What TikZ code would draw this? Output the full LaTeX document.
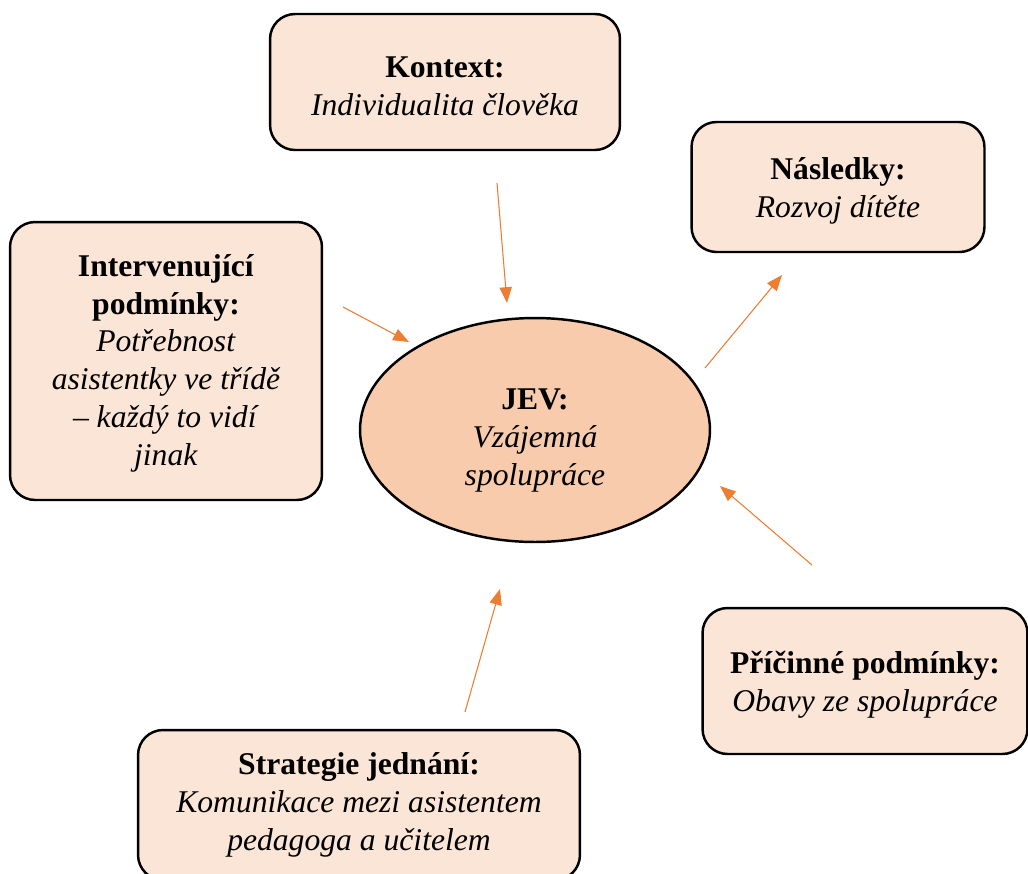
\documentclass[tikz,border=0pt]{standalone}
\usepackage{fontspec}
\setmainfont{Liberation Serif}
\usetikzlibrary{arrows.meta,shapes.geometric}
\definecolor{boxfill}{HTML}{FBE5D6}
\definecolor{jevfill}{HTML}{F8CBAD}
\definecolor{arrowcol}{HTML}{ED7D31}
\newcommand{\topstrut}[1]{\rule{0pt}{#1}}
\begin{document}
\begin{tikzpicture}[x=0.02cm,y=-0.02cm,
    every node/.append style={align=center,font=\fontsize{18}{21.5}\selectfont},
    box/.style={draw,line width=1.4pt,fill=boxfill,rounded corners=0.5cm},
    link/.style={-{Triangle[length=9pt,width=7pt,color=arrowcol]},draw=arrowcol,line width=0.6pt}]
    \useasboundingbox (0,0) rectangle (1028,873);

    \node[box,minimum width=7cm,minimum height=2.72cm] (kontext) at (445,82)
        {\topstrut{17pt}\textbf{Kontext:}\\\textit{Individualita člověka}};
    \node[box,minimum width=5.86cm,minimum height=2.6cm] (nasledky) at (838,187)
        {\topstrut{17pt}\textbf{Následky:}\\\textit{Rozvoj dítěte}};
    \node[box,minimum width=6.24cm,minimum height=5.56cm] (intervenujici) at (166,361)
        {\topstrut{15pt}\textbf{Intervenující}\\\textbf{podmínky:}\\\textit{Potřebnost}\\\textit{asistentky ve třídě}\\\textit{– každý to vidí}\\\textit{jinak}};
    \node[draw,line width=1.4pt,fill=jevfill,ellipse,minimum width=7cm,minimum height=4.48cm] (jev) at (535,430)
        {\topstrut{24pt}\textbf{JEV:}\\\textit{Vzájemná}\\\textit{spolupráce}};
    \node[box,minimum width=6.5cm,minimum height=2.92cm] (pricinne) at (865,681)
        {\topstrut{17pt}\textbf{Příčinné podmínky:}\\\textit{Obavy ze spolupráce}};
    \node[box,minimum width=8.84cm,minimum height=3cm] (strategie) at (359,805)
        {\textbf{Strategie jednání:}\\\textit{Komunikace mezi asistentem}\\\textit{pedagoga a učitelem}};

    \coordinate (k1) at (497,183);
    \coordinate (k2) at (507,303);
    \coordinate (i1) at (343,307);
    \coordinate (i2) at (409,342);
    \coordinate (n1) at (705,368);
    \coordinate (n2) at (782,275);
    \coordinate (p1) at (812,565);
    \coordinate (p2) at (720,486);
    \coordinate (s1) at (465,712);
    \coordinate (s2) at (500,589);

    \path
        (k1) edge[link] (k2)
        (i1) edge[link] (i2)
        (n1) edge[link] (n2)
        (p1) edge[link] (p2)
        (s1) edge[link] (s2);
\end{tikzpicture}
\end{document}
